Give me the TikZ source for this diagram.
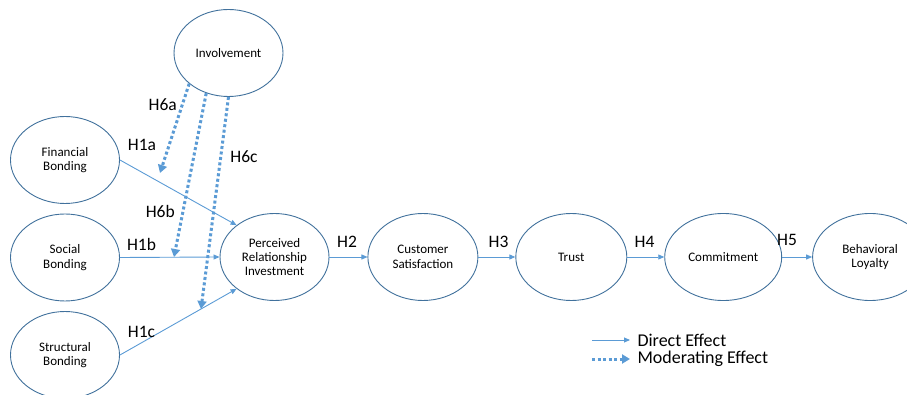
\documentclass[tikz,border=0pt]{standalone}
\usepackage{fontspec}
\setmainfont{Carlito}
\usetikzlibrary{shapes,arrows.meta,positioning}
\definecolor{ellblue}{HTML}{41719C}
\definecolor{arrblue}{HTML}{5B9BD5}

\begin{document}
\begin{tikzpicture}[x=1pt, y=-1pt, node distance=37pt,
                   construct/.style={ellipse, draw=ellblue, line width=0.9pt,
                     minimum width=109pt, minimum height=87pt, inner sep=0pt,
                     align=center, font=\fontsize{13}{14.4}\selectfont},
                   direct/.style={draw=arrblue, line width=0.9pt,
                     -{Triangle[length=6pt,width=5pt]}},
                   moderate/.style={draw=arrblue, line width=3pt,
                     dash pattern=on 3pt off 2.5pt,
                     -{Triangle[length=8pt,width=9pt]}},
                   hyp/.style={font=\fontsize{17.5}{20}\selectfont},
                   legend/.style={font=\fontsize{18}{20}\selectfont}]
          \useasboundingbox (0,0) rectangle (907,395);
          % constructs
          \node[construct] (inv) at (228.5,53) {Involvement};
          \node[construct] (fin) at (65,160) {Financial\\Bonding};
          \node[construct] (soc) at (65,257.5) {Social\\Bonding};
          \node[construct] (str) at (65,355) {Structural\\Bonding};
          \node[construct] (pri) at (274.5,257) {Perceived\\Relationship\\Investment};
          \node[construct, minimum width=110pt, right=38pt of pri] (sat) {Customer\\Satisfaction};
          \node[construct, minimum width=111pt, right=of sat] (tru) {Trust};
          \node[construct, minimum width=117pt, right=of tru] (com) {Commitment};
          \node[construct, minimum width=115pt, right=30pt of com] (loy) {Behavioral\\Loyalty};
          % direct effects
          \draw[direct] (fin.east) -- (pri.140);
          \draw[direct] (soc.east) -- (pri.west);
          \draw[direct] (str.east) -- (pri.220);
          \draw[direct] (pri.east) -- (sat.west);
          \draw[direct] (sat.east) -- (tru.west);
          \draw[direct] (tru.east) -- (com.west);
          \draw[direct] (com.east) -- (loy.west);
          % moderating effects
          \coordinate (m6a) at (160,173);
          \coordinate (m6b) at (174,257);
          \coordinate (m6c) at (201,309);
          \draw[moderate] (inv.218) -- (m6a);
          \draw[moderate] (inv.241) -- (m6b);
          \draw[moderate] (inv.270) -- (m6c);
          % hypotheses
          \node[hyp] (h1a) at (142,145) {H1a};
          \node[hyp] (h1b) at (141.5,244) {H1b};
          \node[hyp] (h1c) at (141.5,331.5) {H1c};
          \node[hyp] (h6a) at (162.7,104.3) {H6a};
          \node[hyp] (h6b) at (160.3,211) {H6b};
          \node[hyp] (h6c) at (244,156.7) {H6c};
          \node[hyp] (h2) at (347,241.7) {H2};
          \node[hyp] (h3) at (498.5,241.7) {H3};
          \node[hyp] (h4) at (644.5,241.7) {H4};
          \node[hyp] (h5) at (787,240) {H5};
          % legend
          \coordinate (d1) at (592,340);
          \coordinate (d2) at (630,340);
          \coordinate (e1) at (592,359);
          \coordinate (e2) at (630,359);
          \draw[direct] (d1) -- (d2);
          \draw[moderate] (e1) -- (e2);
          \node[legend, right=4pt of d2] (dtxt) {Direct Effect};
          \node[legend, right=4pt of e2] (etxt) {Moderating Effect};
        \end{tikzpicture}
\end{document}
